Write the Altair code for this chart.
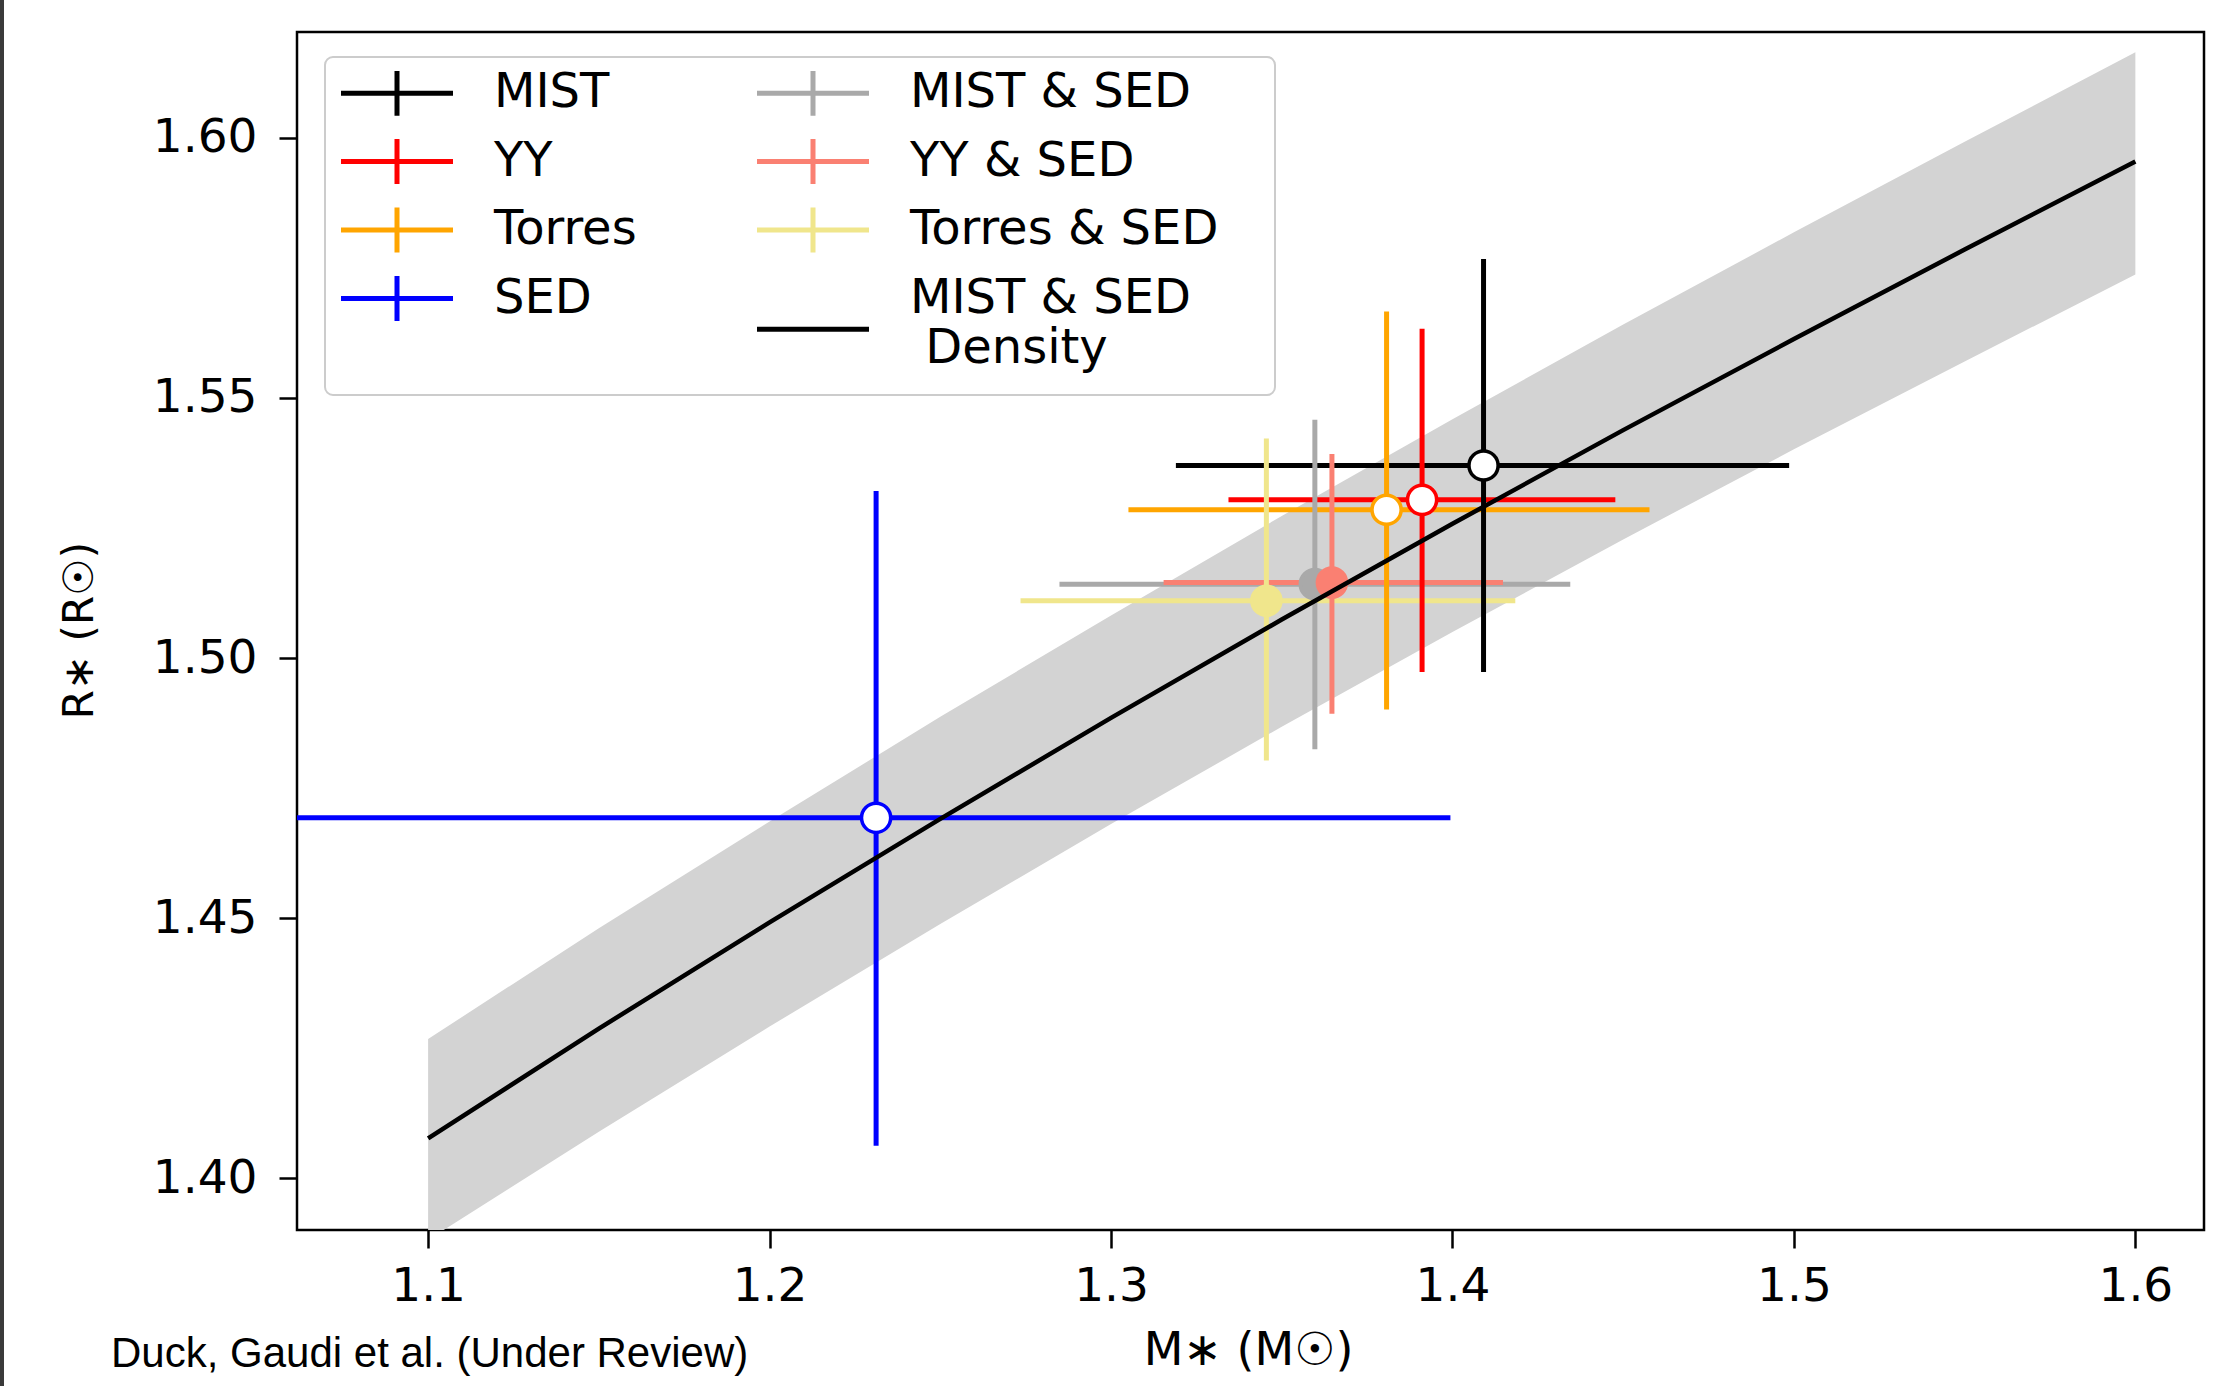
import altair as alt
import pandas as pd

# ---------------- data ----------------
names = ["MIST", "YY", "Torres", "SED", "MIST & SED", "YY & SED", "Torres & SED"]
colors = ["#000000", "#ff0000", "#ffa500", "#0000ff", "#a9a9a9", "#fa8072", "#f0e68c"]
fills = ["#ffffff", "#ffffff", "#ffffff", "#ffffff", "#a9a9a9", "#fa8072", "#f0e68c"]
mass = [1.4091, 1.3911, 1.3807, 1.2312, 1.3597, 1.3647, 1.3455]
mass_lo = [1.3190, 1.3344, 1.3051, 1.0616, 1.2849, 1.3154, 1.2735]
mass_hi = [1.4986, 1.4477, 1.4577, 1.3994, 1.4345, 1.4148, 1.4184]
radius = [1.5370, 1.5304, 1.5285, 1.4693, 1.5142, 1.5145, 1.5110]
radius_lo = [1.4973, 1.4973, 1.4901, 1.4063, 1.4825, 1.4893, 1.4803]
radius_hi = [1.5767, 1.5633, 1.5666, 1.5321, 1.5458, 1.5392, 1.5422]

dens_mass = [1.10, 1.15, 1.20, 1.25, 1.30, 1.35, 1.40, 1.45, 1.50, 1.55, 1.60]
dens_radius = [1.4077, 1.4288, 1.4492, 1.4691, 1.4885, 1.5074, 1.5258, 1.5438, 1.5613, 1.5785, 1.5954]
dens_lo = [1.3882, 1.4090, 1.4292, 1.4489, 1.4681, 1.4868, 1.5050, 1.5228, 1.5401, 1.5570, 1.5737]
dens_hi = [1.4268, 1.4481, 1.4686, 1.4887, 1.5082, 1.5273, 1.5459, 1.5641, 1.5818, 1.5992, 1.6164]

x_ticks = [1.1, 1.2, 1.3, 1.4, 1.5, 1.6]
y_ticks = [1.40, 1.45, 1.50, 1.55, 1.60]

# legend entries, column by column
legend_labels = ["MIST", "YY", "Torres", "SED",
                 "MIST & SED", "YY & SED", "Torres & SED", "MIST & SED Density"]
legend_colors = ["#000000", "#ff0000", "#ffa500", "#0000ff",
                 "#a9a9a9", "#fa8072", "#f0e68c", "#000000"]
cross_path = "M-4,0H4M0,-1.6V1.6"
line_path = "M-4,2.2H4"
legend_shapes = [cross_path] * 7 + [line_path]

# ---------------- tables ----------------
pts = pd.DataFrame(dict(name=names, color=colors, fill=fills, m=mass, mlo=mass_lo,
                        mhi=mass_hi, r=radius, rlo=radius_lo, rhi=radius_hi))
dens = pd.DataFrame(dict(m=dens_mass, r=dens_radius, lo=dens_lo, hi=dens_hi))
leg_df = pd.DataFrame(dict(label=legend_labels))
one = pd.DataFrame(dict(k=[0]))

FONT = "DejaVu Sans"
FS = 47
xs = alt.Scale(domain=[1.0616, 1.6201], nice=False, zero=False)
ys = alt.Scale(domain=[1.3901, 1.6203], nice=False, zero=False)

xaxis = alt.Axis(values=x_ticks, format=".1f", title="M∗ (M☉)", grid=False, domain=False,
                 tickSize=18, tickWidth=2.5, tickColor="black", labelPadding=15,
                 labelFont=FONT, labelFontSize=FS, labelColor="black",
                 titleFont=FONT, titleFontSize=46, titleFontWeight="normal", titleColor="black",
                 titleX=951, titleY=120, titleBaseline="middle", titleAlign="center")
yaxis = alt.Axis(values=y_ticks, format=".2f", title="R∗ (R☉)", grid=False, domain=False,
                 tickSize=18, tickWidth=2.5, tickColor="black", labelPadding=22,
                 labelFont=FONT, labelFontSize=FS, labelColor="black",
                 titleFont=FONT, titleFontSize=42, titleFontWeight="normal", titleColor="black",
                 titleX=-218, titleY=598, titleAngle=270, titleBaseline="middle",
                 titleAlign="center")


def X(f):
    return alt.X(f, type="quantitative", scale=xs, axis=xaxis)


def Y(f):
    return alt.Y(f, type="quantitative", scale=ys, axis=yaxis)


band = alt.Chart(dens).mark_area(color="#d3d3d3", opacity=1, clip=True).encode(
    x=X("m"), y=Y("lo"), y2="hi")

hbars = alt.Chart(pts).mark_rule(strokeWidth=5, clip=True).encode(
    x=X("mlo"), x2="mhi", y=Y("r"), stroke=alt.Stroke("color:N", scale=None))
vbars = alt.Chart(pts).mark_rule(strokeWidth=5, clip=True).encode(
    x=X("m"), y=Y("rlo"), y2="rhi", stroke=alt.Stroke("color:N", scale=None))

markers = alt.Chart(pts).mark_point(shape="circle", filled=True, size=850, strokeWidth=3.5,
                                    opacity=1, fillOpacity=1).encode(
    x=X("m"), y=Y("r"),
    fill=alt.Fill("fill:N", scale=None),
    stroke=alt.Stroke("color:N", scale=None))

dline = alt.Chart(dens).mark_line(color="black", strokeWidth=4.5).encode(
    x=X("m"), y=Y("r"))

# legend frame (matplotlib-style rounded box)
legend_box = alt.Chart(one).mark_rect(fill="white", fillOpacity=0.85, stroke="#cccccc",
                                      strokeWidth=2, cornerRadius=8).encode(
    x=alt.value(28), x2=alt.value(978), y=alt.value(25), y2=alt.value(363))

label_expr = ("datum.label == 'MIST & SED Density' ? ['MIST & SED', '\u200b Density'] : datum.label")

leg = alt.Legend(title=None, orient="none", legendX=28, legendY=28, columns=2,
                 symbolSize=784, symbolStrokeWidth=5, symbolOpacity=1, symbolOffset=39,
                 labelFont=FONT, labelFontSize=48, labelColor="black", labelOffset=73,
                 labelLimit=0, columnPadding=110, rowPadding=2.5, padding=9,
                 labelExpr=label_expr)

legend_layer = alt.Chart(leg_df).mark_point(filled=False, opacity=0, strokeWidth=5).encode(
    color=alt.Color("label:N", scale=alt.Scale(domain=legend_labels, range=legend_colors), legend=leg),
    shape=alt.Shape("label:N", scale=alt.Scale(domain=legend_labels, range=legend_shapes), legend=leg),
)

edge = alt.Chart(one).mark_rule(color="#3a3a3a", strokeWidth=4).encode(
    x=alt.value(-295), y=alt.value(-32), y2=alt.value(1354))

chart = alt.layer(band, hbars, vbars, markers, dline, legend_box, legend_layer, edge).properties(
    width=1907, height=1198,
    autosize=alt.AutoSizeParams(type="none"),
    padding={"left": 297, "top": 32, "right": 33, "bottom": 156},
    title=alt.TitleParams(text="Duck, Gaudi et al. (Under Review)", orient="bottom",
                          anchor="start", frame="group", dx=-186, dy=-54, offset=0,
                          font="Liberation Sans", fontSize=42, fontWeight="normal",
                          color="black"),
).configure_view(stroke="black", strokeWidth=2.5)

chart.save("out.html", embed_options={"renderer": "svg", "actions": False})
